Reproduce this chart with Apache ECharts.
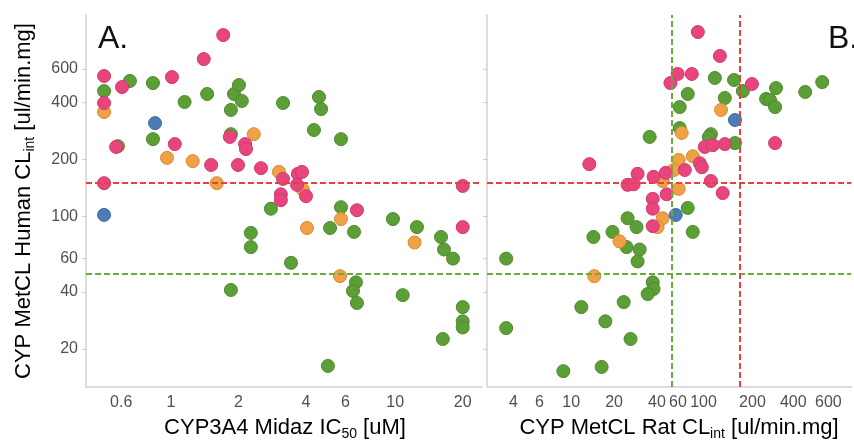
<!DOCTYPE html>
<html><head><meta charset="utf-8">
<script src="https://cdn.jsdelivr.net/npm/echarts@6/dist/echarts.min.js"></script>
<style>html,body{margin:0;padding:0;background:#fff}#c{width:854px;height:446px}</style>
</head><body><div id="c"></div>
<script>
// Tick labels
const yTicks = [20, 40, 60, 100, 200, 400, 600];
const xTicksA = [0.6, 1, 2, 4, 6, 10, 20];
const xTicksB = [4, 6, 10, 20, 40, 60, 100, 200, 400, 600];

// Reference thresholds
const hThresholds = [150, 50];          // red, green (horizontal, both panels)
const vThresholdsB = [50, 150];         // green, red (vertical, panel B)

// Panel A: [IC50 uM, Human CLint]
const aPink = [[0.503,551],[0.503,397],[0.569,233],[0.503,150],[0.605,482],[1.01,544],[1.04,241],[1.51,187],[1.40,677],[1.71,906],[1.83,263],[2.14,241],[2.16,227],[1.99,187],[2.52,180],[3.16,158],[3.68,168],[3.84,172],[3.65,147],[4.00,128],[3.09,131],[3.09,122],[20.0,145],[6.75,108],[20.0,88]];
const aGreen = [[0.503,459],[0.58,235],[0.656,519],[0.831,506],[1.15,402],[0.831,256],[1.45,443],[1.91,443],[2.01,494],[2.07,407],[1.85,365],[1.85,272],[3.16,397],[2.79,110],[4.57,427],[4.67,369],[4.34,286],[5.73,256],[5.73,112],[9.77,97],[12.5,88],[5.12,87],[6.55,83],[2.27,82],[2.27,69],[3.43,57],[1.85,41],[16.0,78],[16.5,67],[18.1,60],[6.68,45],[6.48,40.5],[6.75,35],[10.8,38.5],[20.0,33.3],[20.0,28],[20.0,26],[16.3,22.6],[5.01,16.3]];
const aOrange = [[0.503,356],[0.96,204],[1.25,196],[1.60,150],[2.34,272],[3.03,172],[3.88,138],[5.73,97],[4.04,87],[12.2,73],[5.67,48.5]];
const aBlue = [[0.503,102],[0.849,311]];

// Panel B: [Rat CLint, Human CLint]
const bPink = [[76.3,940],[109,703],[55.1,565],[69.2,565],[49,506],[183,500],[85.4,233],[97.3,238],[118,241],[266,244],[13.2,189],[78.8,191],[81.4,182],[61.8,176],[28.8,168],[37.3,162],[45.4,170],[24.5,147],[27.0,148],[94.2,154],[114,133],[46.1,131],[36.8,124],[36.8,110],[36.8,89]];
const bGreen = [[100.5,538],[137,525],[158,459],[270,476],[433,454],[570,512],[230,417],[245,412],[266,378],[64.8,443],[118,422],[56.9,378],[56.9,293],[35.0,263],[94.2,272],[91.2,263],[139,244],[64.8,111],[24.5,98],[28.3,88],[19.2,83],[70.3,83],[14.1,78],[24.1,69],[29.8,67],[28.8,58],[3.44,60],[36.8,45],[37.3,41.5],[33.9,39],[11.6,33.3],[23.0,35.4],[17.1,28],[3.44,25.8],[25.7,22.6],[8.67,15.3],[16.1,16.1]];
const bOrange = [[111,365],[58.8,276],[56.0,199],[70.3,208],[51.7,176],[43.2,154],[56.0,140],[43.2,98],[39.8,88],[21.5,74],[14.3,48.5]];
const bBlue = [[139,323],[53.4,102]];

// style: small horizontal nudges (px) of panel-B tick labels, as laid out in the original
const labelNudgeB = [-2, -1, -1, -1, -1, -5, -11, -5, -7, 3];

const C = {green:'#5c9f36', pink:'#e8457f', orange:'#f0a045', blue:'#4a7db6'};
const BORDER = {green:'#4d8a2c', pink:'#cf3a6e', orange:'#d98b35', blue:'#3e6c9f'};
const lg = v => Math.log10(v);

function scatter(name, pts, color, gi) {
  return {
    type:'scatter', name, xAxisIndex:gi, yAxisIndex:gi, z:3,
    symbolSize:13,
    itemStyle:{color:C[color], borderColor:BORDER[color], borderWidth:1, opacity:1},
    data: pts.map(p => [lg(p[0]), lg(p[1])])
  };
}
const lineColors = {red:'#e8403a', green:'#6aab3c'};
function refLines(gi, horiz, vert) {
  const d = [];
  d.push({yAxis: lg(horiz[0]), lineStyle:{color:lineColors.red}});
  d.push({yAxis: lg(horiz[1]), lineStyle:{color:lineColors.green}});
  if (vert) {
    d.push({xAxis: lg(vert[0]), lineStyle:{color:lineColors.green}});
    d.push({xAxis: lg(vert[1]), lineStyle:{color:lineColors.red}});
  }
  return {
    type:'scatter', xAxisIndex:gi, yAxisIndex:gi, data:[], z:1, silent:true,
    markLine:{symbol:'none', silent:true, animation:false, label:{show:false},
      lineStyle:{type:[6,3], width:2}, data:d}
  };
}

// label formatter: only tick values get text; an extra blank slot at the axis end
// keeps ECharts' min/max overlap check from hiding a real tick label
function makeFmt(ticks, nudge) {
  const logs = ticks.map(lg);
  return v => {
    const i = logs.findIndex(l => Math.abs(l - v) < 1e-9);
    if (i < 0) return '';
    return nudge ? '{n' + i + '|' + ticks[i] + '}' : String(ticks[i]);
  };
}
function nudgeRich(nudge) {
  const r = {};
  nudge.forEach((d, i) => {
    r['n' + i] = {fontFamily:'Liberation Sans', fontSize:16, color:'#505050',
      padding:[0, d < 0 ? -2 * d : 0, 0, d > 0 ? 2 * d : 0]};
  });
  return r;
}

const axisLine = {show:true, onZero:false, lineStyle:{color:'#dcdcdc', width:2}};
const yMin = 1.101, yMax = 3.063;
function yAxis(gi, labels) {
  return {
    type:'value', gridIndex:gi, min:yMin, max:yMax,
    axisLine, splitLine:{show:false},
    axisTick:{show:true, length:4, lineStyle:{color:'#cfcfcf'}, customValues: yTicks.map(lg)},
    axisLabel:{show:labels, customValues: yTicks.map(lg), formatter: makeFmt(yTicks), margin:8,
      fontFamily:'Liberation Sans', fontSize:16, color:'#505050'}
  };
}
function xAxis(gi, min, max, ticks, nudge) {
  return {
    type:'value', gridIndex:gi, min, max,
    axisLine, splitLine:{show:false},
    axisTick:{show:false},
    axisLabel:{customValues: ticks.map(lg).concat([max - 0.002]), formatter: makeFmt(ticks, nudge),
      rich: nudge ? nudgeRich(nudge) : undefined,
      margin:8, hideOverlap:false,
      fontFamily:'Liberation Sans', fontSize:16, color:'#505050'}
  };
}

const titleRich = {
  a:{fontFamily:'Liberation Sans', fontSize:22, color:'#222', lineHeight:26},
  s:{fontFamily:'Liberation Sans', fontSize:14, color:'#222', lineHeight:26, verticalAlign:'bottom'}
};
function label(text, x, y, rot) {
  return {type:'text', x, y, rotation: rot || 0, silent:true,
    style:{text, rich:titleRich, align:'center', verticalAlign:'middle'}};
}

const option = {
  animation:false,
  backgroundColor:'#fff',
  grid:[{left:86, top:15, width:396, height:372}, {left:487, top:15, width:366, height:372}],
  xAxis:[xAxis(0, -0.379, 1.387, xTicksA), xAxis(1, 0.402, 2.96, xTicksB, labelNudgeB)],
  yAxis:[yAxis(0, true), yAxis(1, false)],
  series:[
    refLines(0, hThresholds, null),
    refLines(1, hThresholds, vThresholdsB),
    scatter('A green', aGreen, 'green', 0),
    scatter('A orange', aOrange, 'orange', 0),
    scatter('A blue', aBlue, 'blue', 0),
    scatter('A pink', aPink, 'pink', 0),
    scatter('B green', bGreen, 'green', 1),
    scatter('B orange', bOrange, 'orange', 1),
    scatter('B blue', bBlue, 'blue', 1),
    scatter('B pink', bPink, 'pink', 1)
  ],
  graphic:[
    label('{a|CYP MetCL Human CL}{s|int}{a| [ul/min.mg]}', 24, 201, Math.PI/2),
    label('{a|CYP3A4 Midaz IC}{s|50}{a| [uM]}', 285, 428),
    label('{a|CYP MetCL Rat CL}{s|int}{a| [ul/min.mg]}', 679, 428),
    {type:'text', x:98, y:39, silent:true, style:{text:'A.', fontFamily:'Liberation Sans', fontSize:32, fill:'#111', align:'left', verticalAlign:'middle'}},
    {type:'text', x:828, y:39, silent:true, style:{text:'B.', fontFamily:'Liberation Sans', fontSize:32, fill:'#111', align:'left', verticalAlign:'middle'}}
  ]
};
const chart = echarts.init(document.getElementById('c'), null, {renderer:'canvas'});
chart.setOption(option);
</script></body></html>
